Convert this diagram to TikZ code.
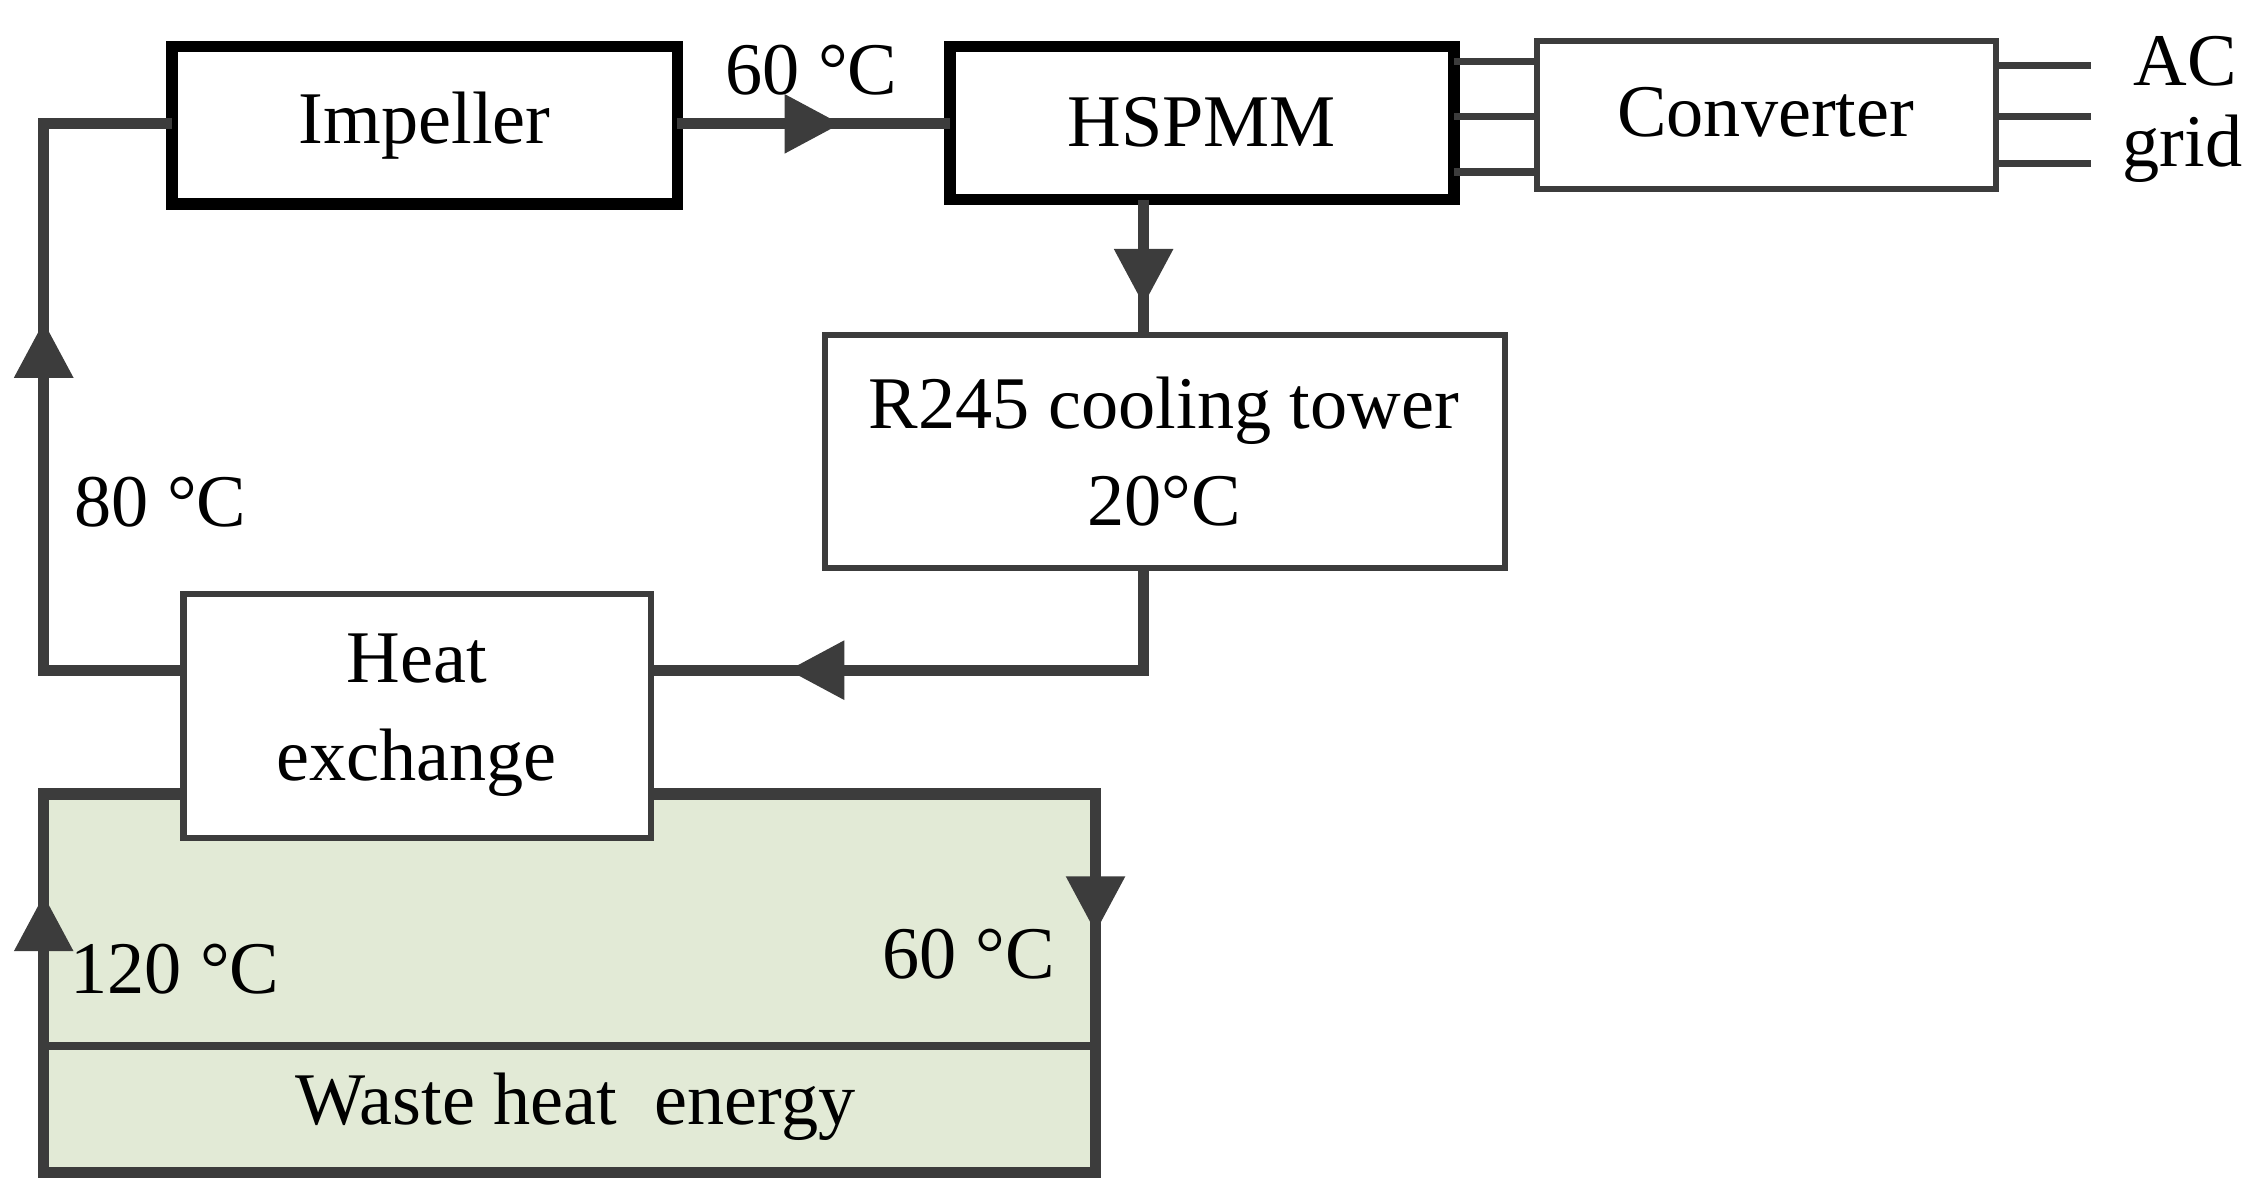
\documentclass[tikz,border=0pt]{standalone}
\usepackage{fontspec}
\setmainfont{Liberation Serif}
\usetikzlibrary{arrows.meta, positioning, decorations.markings}
\definecolor{wastegreen}{RGB}{226,234,214}
\definecolor{linegray}{RGB}{60,60,60}
\begin{document}
\begin{tikzpicture}[
        x=0.01cm, y=-0.01cm,
        every node/.style={font=\fontsize{14.5}{19}\selectfont},
        thinbox/.style={draw=linegray, line width=1.2pt, fill=white},
        pipe/.style={draw=linegray, line width=2.2pt},
        flow/.style={pipe, postaction={decorate}, decoration={markings,
            mark=at position #1 with {\arrow{Triangle[length=11pt,width=11pt]}}}},
        wire/.style={draw=linegray, line width=1.4pt}
    ]
    \useasboundingbox (0,0) rectangle (1552,826);
    % waste heat tank
    \draw[fill=wastegreen, line width=2.2pt, draw=linegray] (30,545) rectangle (752,805);
    \draw[linegray, line width=1.4pt] (30,718) -- (752,718);
    \node (waste) at (395,760) {Waste heat\ \ energy};
    \node (t120) at (120,665) {120 °C};
    \node (t60b) at (665,655) {60 °C};
    % boxes
    \draw[line width=2.2pt] (118,32) rectangle (465,140);
    \node (imp) at (291.5,86) {Impeller};
    \draw[line width=2.2pt] (652,32) rectangle (998,137);
    \node (hspmm) at (825,84) {HSPMM};
    \draw[thinbox] (1055,28) rectangle (1370,130);
    \node (conv) at (1212,77) {Converter};
    \draw[thinbox] (566,230) rectangle (1033,390);
    \node[align=center] (tower) at (799,310) {R245 cooling tower\\20°C};
    % wires
    \foreach \y in {42,80,118} {
        \draw[wire] (998,\y) -- (1055,\y);
    }
    \foreach \y in {45,80,112} {
        \draw[wire] (1370,\y) -- (1435,\y);
    }
    \node (ac) at (1500,42) {AC};
    \node (grid) at (1498,102) {grid};
    % loop
    \draw[flow=0.6] (465,85) -- (652,85);
    \node (t60a) at (557,48) {60 °C};
    \draw[flow=0.78] (785,137) -- (785,230);
    \draw[flow=0.77] (785,390) -- (785,460) -- (447,460);
    \draw[flow=0.6] (126,460) -- (30,460) -- (30,85) -- (118,85);
    \node (t80) at (110,345) {80 °C};
    \draw[flow=0.6] (30,718) -- (30,545);
    \draw[flow=0.55] (752,545) -- (752,718);
    \draw[thinbox] (126,408) rectangle (447,575);
    \node[align=center] (hx) at (286,491) {Heat\\exchange};
\end{tikzpicture}
\end{document}
